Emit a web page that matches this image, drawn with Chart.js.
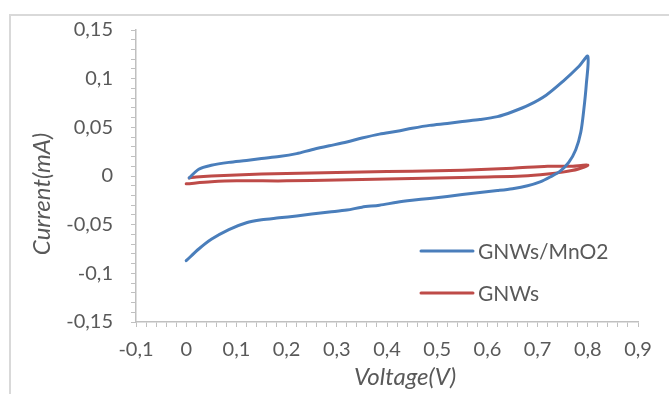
<!DOCTYPE html>
<html>
<head>
<meta charset="utf-8">
<script src="https://cdn.jsdelivr.net/npm/chart.js@4"></script>
<style>
  html, body { margin: 0; padding: 0; background: #fff; overflow: hidden; }
  #wrap { position: relative; width: 669px; height: 394px; }
  #frame { position: absolute; left: 9px; top: 14px; width: 700px; height: 420px; border: 2px solid #d9d9d9; box-sizing: border-box; }
  canvas { position: absolute; left: 0; top: 0; }
</style>
</head>
<body>
<div id="wrap">
  <div id="frame"></div>
  <canvas id="cv" width="669" height="394"></canvas>
</div>
<script>
// ── Data ──
const mno2Label = 'GNWs/MnO2';
const mno2V = [0, 0.025, 0.05, 0.085, 0.12, 0.15, 0.185, 0.22, 0.25, 0.285, 0.32, 0.35, 0.385, 0.42, 0.45, 0.485, 0.52, 0.55, 0.585, 0.62, 0.65, 0.68, 0.705, 0.725, 0.745, 0.762, 0.776, 0.786, 0.792, 0.797, 0.8,
               0.783, 0.75, 0.717, 0.683, 0.65, 0.62, 0.585, 0.55, 0.52, 0.485, 0.45, 0.42, 0.385, 0.35, 0.32, 0.285, 0.25, 0.22, 0.185, 0.15, 0.12, 0.085, 0.05, 0.025, 0.006];
const mno2I = [-0.087, -0.075, -0.065, -0.055, -0.048, -0.045, -0.043, -0.041, -0.039, -0.037, -0.035, -0.032, -0.030, -0.027, -0.025, -0.023, -0.021, -0.019, -0.017, -0.015, -0.013, -0.010, -0.006, -0.001, 0.005, 0.014, 0.027, 0.045, 0.068, 0.094, 0.123,
               0.113, 0.097, 0.083, 0.073, 0.066, 0.061, 0.058, 0.056, 0.054, 0.052, 0.049, 0.046, 0.043, 0.039, 0.035, 0.031, 0.027, 0.023, 0.020, 0.018, 0.016, 0.014, 0.011, 0.007, -0.002];

const gnwLabel = 'GNWs';
const gnwV = [0, 0.05, 0.1, 0.2, 0.3, 0.4, 0.5, 0.6, 0.67, 0.72, 0.75, 0.78, 0.8,
              0.79, 0.77, 0.72, 0.65, 0.55, 0.45, 0.35, 0.25, 0.15, 0.05, 0.02, 0.006];
const gnwI = [-0.008, -0.006, -0.005, -0.005, -0.004, -0.003, -0.002, -0.001, 0, 0.002, 0.004, 0.007, 0.011,
              0.011, 0.010, 0.010, 0.008, 0.006, 0.005, 0.004, 0.003, 0.002, 0.0, -0.001, -0.002];

const xMin = -0.1, xMax = 0.9, xMinor = 0.02;
const yMin = -0.15, yMax = 0.15, yMinor = 0.01;

// ── Helpers ──
const pts = (xs, ys) => xs.map((x, i) => ({ x, y: ys[i] }));
const fmt = v => String(+v.toFixed(2)).replace('.', ',');
const TXT = '#595959';
const AXIS = '#c0c0c0';
const FONT = 'Lato, "Open Sans", sans-serif';

// axis titles + legend drawn inside the frame
const extras = {
  id: 'extras',
  afterDraw(chart) {
    const ctx = chart.ctx;
    ctx.save();
    ctx.fillStyle = TXT;
    ctx.font = 'italic 24px ' + FONT;
    ctx.textAlign = 'center';
    ctx.textBaseline = 'middle';
    ctx.fillText('Voltage(V)', 405, 377);
    ctx.translate(42, 194);
    ctx.rotate(-Math.PI / 2);
    ctx.fillText('Current(mA)', 0, 0);
    ctx.restore();

    ctx.save();
    ctx.font = '21px ' + FONT;
    ctx.textBaseline = 'middle';
    ctx.lineWidth = 3;
    ctx.lineCap = 'round';
    chart.data.datasets.forEach((ds, i) => {
      const y = 251 + i * 42;
      ctx.strokeStyle = ds.borderColor;
      ctx.beginPath(); ctx.moveTo(421, y); ctx.lineTo(473, y); ctx.stroke();
      ctx.fillStyle = TXT;
      ctx.fillText(ds.label, 478, y + 1);
    });
    ctx.restore();
  }
};

new Chart(document.getElementById('cv').getContext('2d'), {
  type: 'scatter',
  data: {
    datasets: [
      { label: mno2Label, data: pts(mno2V, mno2I), borderColor: '#4a7ebb', showLine: true, borderWidth: 3, pointRadius: 0, tension: 0.3, borderCapStyle: 'round', borderJoinStyle: 'round' },
      { label: gnwLabel,  data: pts(gnwV, gnwI),   borderColor: '#be4b48', showLine: true, borderWidth: 3, pointRadius: 0, tension: 0.3, borderCapStyle: 'round', borderJoinStyle: 'round' },
    ]
  },
  options: {
    responsive: false,
    animation: false,
    layout: { padding: { top: 28, right: 31, left: 0, bottom: 0 } },
    plugins: { legend: { display: false }, tooltip: { enabled: false } },
    scales: {
      x: {
        type: 'linear', min: xMin, max: xMax,
        afterFit: s => { s.height = 72; },
        ticks: {
          stepSize: xMinor, autoSkip: false, maxRotation: 0, padding: 11,
          color: TXT, font: { family: FONT, size: 20 },
          callback: v => Math.round(v * 100) % 10 === 0 ? fmt(v) : ''
        },
        grid: { drawOnChartArea: false, drawTicks: true, tickLength: 5, color: AXIS },
        border: { display: true, color: AXIS, width: 1.5 }
      },
      y: {
        type: 'linear', min: yMin, max: yMax,
        afterFit: s => { s.width = 136; },
        ticks: {
          stepSize: yMinor, autoSkip: false, padding: 18,
          color: TXT, font: { family: FONT, size: 20 },
          callback: v => Math.round(v * 100) % 5 === 0 ? fmt(v) : ''
        },
        grid: { drawOnChartArea: false, drawTicks: true, tickLength: 5, color: AXIS },
        border: { display: true, color: AXIS, width: 1.5 }
      }
    }
  },
  plugins: [extras]
});
</script>
</body>
</html>
